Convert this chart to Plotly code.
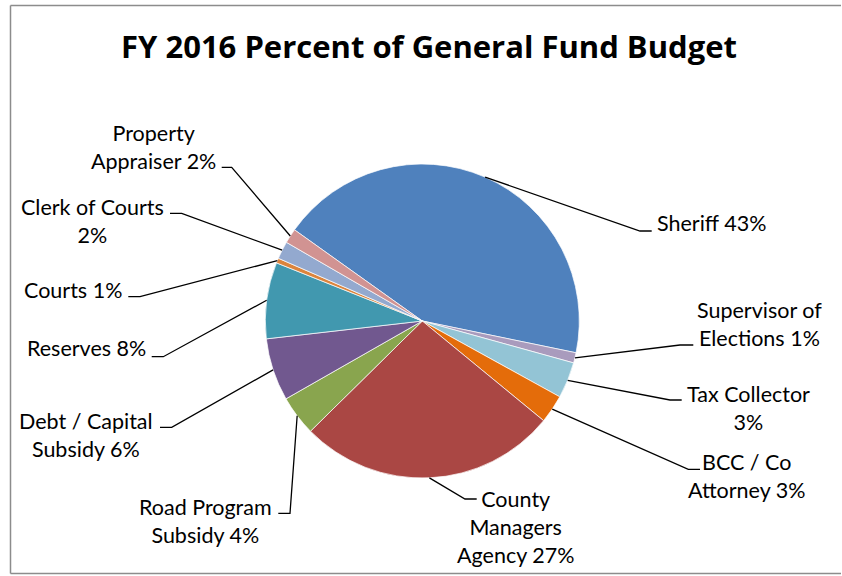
import math
import plotly.graph_objects as go

# ---- data ----
categories = ["Sheriff", "Supervisor of Elections", "Tax Collector", "BCC / Co Attorney",
              "County Managers Agency", "Road Program Subsidy", "Debt / Capital Subsidy",
              "Reserves", "Courts", "Clerk of Courts", "Property Appraiser"]
values = [43.1, 1.05, 3.7, 2.9, 26.5, 4.1, 6.4, 7.8, 0.5, 1.8, 1.5]
label_texts = ["Sheriff 43%", "Supervisor of<br>Elections 1%", "Tax Collector<br>3%",
               "BCC / Co<br>Attorney 3%", "County<br>Managers<br>Agency 27%",
               "Road Program<br>Subsidy 4%", "Debt / Capital<br>Subsidy 6%", "Reserves 8%",
               "Courts 1%", "Clerk of Courts<br>2%", "Property<br>Appraiser 2%"]
title_text = "FY 2016 Percent of General Fund Budget"

# ---- styles / layout ----
colors = ["#4F81BD", "#A99BBD", "#93C4D5", "#E46C0A", "#AA4744", "#89A54E",
          "#71588F", "#4198AF", "#DB843D", "#93A9CF", "#D19392"]
W, H = 842, 576
CX, CY, R = 422.3, 321.0, 157.0
ROT = 305.5  # start angle of the first slice, clockwise from 12 o'clock

# label block centers (px) and horizontal leader segment (near-text x, knee x, y) in px
label_pos = [(711, 223.3), (759, 323.8), (748, 407.7), (746.7, 476.2), (515.8, 527.0),
             (205, 520.8), (85.5, 435.3), (86.7, 348.3), (73.3, 290.0), (92.5, 221.3),
             (153, 146.7)]
leader_seg = [(651.7, 640, 231), (693.3, 680, 345), (681.7, 670, 400), (700, 688.3, 469.3),
              (476.7, 465, 499), (278.3, 290, 513.3), (160, 171.7, 427.3), (151.7, 163.3, 356.7),
              (128.3, 140, 296.7), (170, 181.7, 213.3), (221.7, 231.7, 167.3)]

FONT = "Lato"
TITLE_FONT = "Open Sans"


def px2paper(x, y):
    return x / W, 1 - y / H


fig = go.Figure()
fig.add_trace(go.Pie(
    labels=categories, values=values, sort=False, direction="clockwise",
    rotation=ROT if ROT <= 180 else ROT - 360,
    marker=dict(colors=colors, line=dict(color="white", width=0.7)),
    textinfo="none", showlegend=False,
    domain=dict(x=[(CX - R) / W, (CX + R) / W], y=[1 - (CY + R) / H, 1 - (CY - R) / H]),
))

shapes = []
annotations = []
total = sum(values)
cum = 0.0
for i, v in enumerate(values):
    mid = ROT + (cum + v / 2) / total * 360
    cum += v
    a = math.radians(mid)
    ex, ey = CX + R * math.sin(a), CY - R * math.cos(a)
    x0, x1, ly = leader_seg[i]
    p0 = px2paper(x0, ly)
    p1 = px2paper(x1, ly)
    p2 = px2paper(ex, ey)
    shapes.append(dict(type="path", xref="paper", yref="paper",
                       path=f"M {p0[0]} {p0[1]} L {p1[0]} {p1[1]} L {p2[0]} {p2[1]}",
                       line=dict(color="black", width=1.3)))
    tx, ty = px2paper(*label_pos[i])
    annotations.append(dict(x=tx, y=ty, xref="paper", yref="paper", text=label_texts[i],
                            showarrow=False, xanchor="center", yanchor="middle", align="center",
                            font=dict(family=FONT, size=21.5, color="black")))

# chart border: three separate lines (top, left, bottom)
bx0, by0 = px2paper(10.5, 5.5)
bx1, by1 = px2paper(841, 573.5)
for (xa, ya, xb, yb) in [(bx0, by0, bx1, by0), (bx0, by0, bx0, by1), (bx0, by1, bx1, by1)]:
    shapes.append(dict(type="line", xref="paper", yref="paper", x0=xa, y0=ya, x1=xb, y1=yb,
                       line=dict(color="#8C8C8C", width=1.5), layer="below"))

fig.update_layout(
    width=W, height=H,
    margin=dict(l=0, r=0, t=0, b=0),
    paper_bgcolor="white", plot_bgcolor="white",
    title=dict(text=f"<b>{title_text}</b>", x=429 / W, xanchor="center",
               y=1 - 47 / H, yanchor="middle", yref="container",
               font=dict(family=TITLE_FONT, size=31, color="black")),
    shapes=shapes, annotations=annotations,
)

fig.write_html("out.html", config={"displayModeBar": False},
               post_script="document.body.style.margin='0';document.body.style.overflow='hidden';")
